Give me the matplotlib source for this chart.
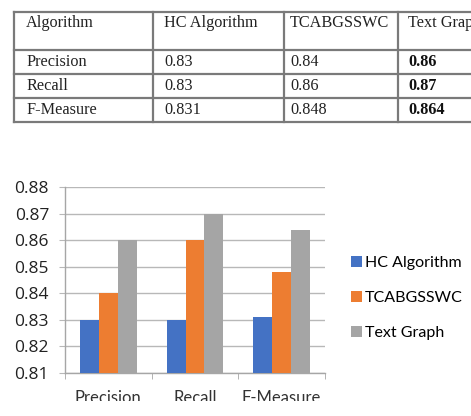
import matplotlib.pyplot as plt
from matplotlib.patches import Rectangle, Patch

W, H = 471, 416

# table contents
table_header = ['Algorithm', 'HC Algorithm', 'TCABGSSWC', 'Text Graph']
metrics = ['Precision', 'Recall', 'F-Measure']
hc_text = ['0.83', '0.83', '0.831']
tca_text = ['0.84', '0.86', '0.848']
tg_text = ['0.86', '0.87', '0.864']

# chart values
algorithms = ['HC Algorithm', 'TCABGSSWC', 'Text Graph']
hc_vals = [0.83, 0.83, 0.831]
tca_vals = [0.84, 0.86, 0.848]
tg_vals = [0.86, 0.87, 0.864]
colors = ['#4472C4', '#ED7D31', '#A5A5A5']
y_ticks = [0.81, 0.82, 0.83, 0.84, 0.85, 0.86, 0.87, 0.88]

fig = plt.figure(figsize=(W / 100, H / 100), dpi=100)
fig.patch.set_facecolor('white')

# --- table drawn in pixel coordinates ---
tab = fig.add_axes([0, 0, 1, 1])
tab.set_xlim(0, W)
tab.set_ylim(H, 0)
tab.axis('off')
line_kw = dict(color='#7a7a7a', lw=1.6)
col_x = [14, 153, 284, 398]
row_y = [12, 50, 74, 98, 122]
for y in row_y:
    tab.plot([col_x[0], W + 5], [y, y], **line_kw)
for x in col_x:
    tab.plot([x, x], [row_y[0], row_y[-1]], **line_kw)

serif = 'Liberation Serif'
text_x = [26, 164, 290, 408]
for j, h in enumerate(table_header):
    tab.text(text_x[j], 23, h, fontsize=11.7, family=serif, va='center',
             color='#222222', clip_on=False)
rows = list(zip(metrics, hc_text, tca_text, tg_text))
for i, row in enumerate(rows):
    yc = (row_y[i + 1] + row_y[i + 2]) / 2
    for j, val in enumerate(row):
        tab.text(text_x[j], yc, val, fontsize=11.7, family=serif, va='center',
                 color='#111111' if j == 3 else '#222222',
                 weight='bold' if j == 3 else 'normal')

# --- bar chart ---
ax = fig.add_axes([65 / W, 1 - 373 / H, 260 / W, 186 / H])
font = 'Open Sans'
font2 = 'Lato'
bw = 0.218
xs = range(len(metrics))
for k, (vals, c) in enumerate(zip([hc_vals, tca_vals, tg_vals], colors)):
    ax.bar([x + (k - 1) * bw for x in xs], [v - 0.81 for v in vals], bw,
           bottom=0.81, color=c, zorder=3)

ax.set_ylim(0.81, 0.88)
ax.set_xlim(-0.5, 2.5)
ax.set_yticks(y_ticks)
ax.set_yticklabels([f'{t:.2f}' for t in y_ticks], family=font, fontsize=12.5,
                   color='#222222')
ax.grid(axis='y', color='#b8b8b8', lw=1, zorder=0)
for s in ['top', 'right']:
    ax.spines[s].set_visible(False)
for s in ['left', 'bottom']:
    ax.spines[s].set_color('#a6a6a6')
    ax.spines[s].set_linewidth(1)
ax.tick_params(axis='y', length=4.5, color='#b8b8b8', pad=7)
ax.set_xticks(list(xs))
ax.set_xticklabels(metrics, family=font2, fontsize=12, color='#333333')
ax.set_xticks([-0.5, 0.5, 1.5, 2.5], minor=True)
ax.tick_params(axis='x', which='major', length=0, pad=12)
ax.tick_params(axis='x', which='minor', length=4, color='#a6a6a6')

handles = [Patch(facecolor=c, edgecolor='none') for c in colors]
fig.legend(handles, algorithms, loc='center left',
           bbox_to_anchor=(338 / W, 1 - 298 / H), frameon=False,
           prop={'family': font2, 'size': 11.5}, labelspacing=1.3,
           handlelength=0.7, handleheight=0.7, handletextpad=0.2,
           borderpad=0.3)

# bottom of the picture is cropped in the reference
fig.add_artist(Rectangle((0, 0), 1, 1 - 401 / H, transform=fig.transFigure,
                         facecolor='white', edgecolor='none', zorder=10))

fig.savefig('out.png', dpi=100, facecolor='white')
